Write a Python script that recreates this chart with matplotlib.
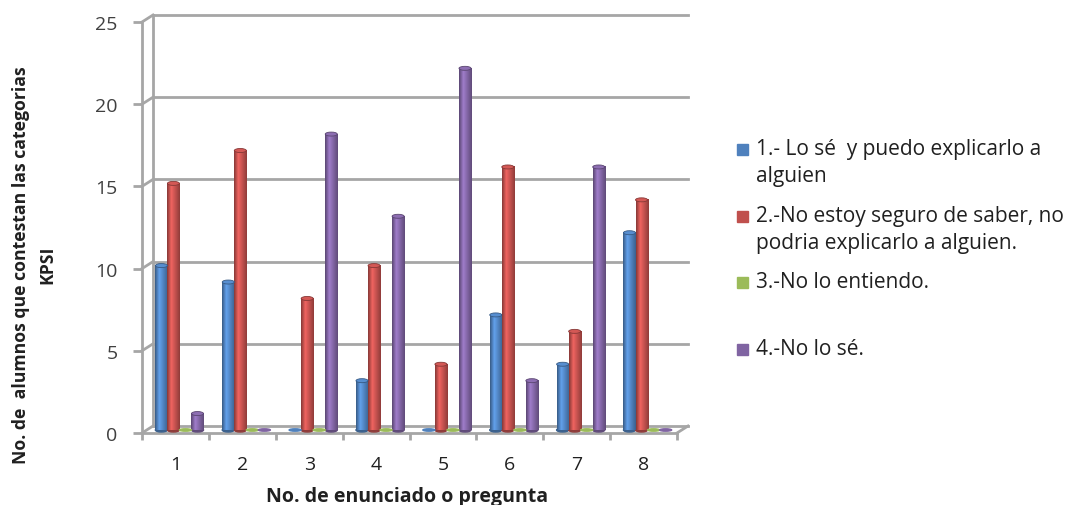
import matplotlib
matplotlib.use("Agg")
import matplotlib.pyplot as plt
import numpy as np
from matplotlib.patches import Ellipse, Rectangle
from matplotlib.colors import LinearSegmentedColormap, to_rgb

plt.rcParams['font.family'] = ['Open Sans', 'DejaVu Sans']

# Datos de la encuesta KPSI
preguntas = ['1', '2', '3', '4', '5', '6', '7', '8']
lo_se = [10, 9, 0, 3, 0, 7, 4, 12]
no_seguro = [15, 17, 8, 10, 4, 16, 6, 14]
no_entiendo = [0, 0, 0, 0, 0, 0, 0, 0]
no_lo_se = [1, 0, 18, 13, 22, 3, 16, 0]

series = [lo_se, no_seguro, no_entiendo, no_lo_se]
nombres = ['1.- Lo sé  y puedo explicarlo a\nalguien',
           '2.-No estoy seguro de saber, no\npodria explicarlo a alguien.',
           '3.-No lo entiendo.',
           '4.-No lo sé.']
colores = ['#4F81BD', '#C0504D', '#9BBB59', '#8064A2']

W, H = 1088, 506
fig = plt.figure(figsize=(W / 100, H / 100), dpi=100)

# plano frontal del grafico (pixeles)
x0, x1, y0, y1 = 142, 677, 434, 23
ax = fig.add_axes([x0 / W, 1 - y0 / H, (x1 - x0) / W, (y0 - y1) / H])
ax.set_xlim(0, 8)
ax.set_ylim(0, 25)

# profundidad en unidades de datos
px_x = 8 / (x1 - x0)
px_y = 25 / (y0 - y1)
dx, dy = 11 * px_x, 7 * px_y          # pared del fondo
mx, my = 4 * px_x, 3 * px_y           # plano de las barras

gris = '#A6A6A6'
for v in range(0, 30, 5):
    ax.plot([dx, 8 + dx], [v + dy, v + dy], color=gris, lw=2, clip_on=False, zorder=1)
    ax.plot([0, dx], [v, v + dy], color=gris, lw=2, clip_on=False, zorder=1)
ax.plot([dx, dx], [dy, 25 + dy], color=gris, lw=2, clip_on=False, zorder=1)
ax.plot([8, 8 + dx], [0, dy], color=gris, lw=2, clip_on=False, zorder=1)

for s in ['top', 'right']:
    ax.spines[s].set_visible(False)
for s in ['left', 'bottom']:
    ax.spines[s].set_color(gris)
    ax.spines[s].set_linewidth(2)

ax.set_yticks(range(0, 30, 5))
ax.tick_params(axis='y', length=6.5, width=2, color=gris, labelsize=14,
               labelcolor='#404040', pad=11)
ax.set_xticks(np.arange(0, 9))
ax.set_xticklabels([])
ax.set_xticks(np.arange(8) + 0.5, minor=True)
ax.set_xticklabels(preguntas, minor=True)
ax.tick_params(axis='x', which='major', length=5, width=2, color=gris)
ax.tick_params(axis='x', which='minor', length=0, labelsize=14,
               labelcolor='#202020', pad=16)

# barras tipo cilindro
ancho = 0.18
alto_elipse = 4 * px_y
grad = np.linspace(0, 1, 64)
for k, (vals, col) in enumerate(zip(series, colores)):
    c = np.array(to_rgb(col))
    cmap = LinearSegmentedColormap.from_list(
        'c%d' % k, [c * 0.7, np.minimum(c * 1.25, 1), c, c * 0.75])
    xs = np.arange(8) + 0.5 + mx + (k - 1.5) * ancho
    barras = ax.bar(xs, vals, width=ancho, bottom=my, color=col,
                    edgecolor='none', zorder=3, clip_on=False)
    for xc, v, b in zip(xs, vals, barras):
        if v > 0:
            im = ax.imshow(grad[None, :], cmap=cmap, aspect='auto',
                           extent=[xc - ancho / 2, xc + ancho / 2, my, my + v],
                           zorder=3, clip_on=False)
            im.set_clip_path(b)
            ax.add_patch(Ellipse((xc, my), ancho, alto_elipse, color=c * 0.75,
                                 zorder=2.9, clip_on=False))
            ax.add_patch(Ellipse((xc, my + v), ancho, alto_elipse,
                                 color=np.minimum(c * 1.1, 1),
                                 ec=c * 0.7, lw=0.6, zorder=4, clip_on=False))
        else:
            ax.add_patch(Ellipse((xc, my), ancho, alto_elipse * 0.6, color=col,
                                 zorder=4, clip_on=False))
ax.set_xlim(0, 8)
ax.set_ylim(0, 25)

# titulos de los ejes
fig.text(407 / W, 1 - 487 / H, 'No. de enunciado o pregunta', fontsize=14,
         fontweight='bold', ha='center', va='top', color='#202020')
fig.text(34 / W, 1 - 265 / H, 'No. de  alumnos que contestan las categorias\nKPSI',
         fontsize=12.7, fontweight='bold', rotation=90, ha='center', va='center',
         linespacing=1.6, multialignment='center', color='#202020')

# leyenda
ys = [150, 217, 283, 350]
for nombre, col, yc in zip(nombres, colores, ys):
    fig.patches.append(Rectangle(((737) / W, 1 - (yc + 6) / H), 11 / W, 11 / H,
                                 transform=fig.transFigure, color=col))
    fig.text(756 / W, 1 - (yc - 11) / H, nombre, fontsize=15, va='top',
             ha='left', color='#202020', linespacing=1.36)

fig.savefig('out.png', dpi=100)
